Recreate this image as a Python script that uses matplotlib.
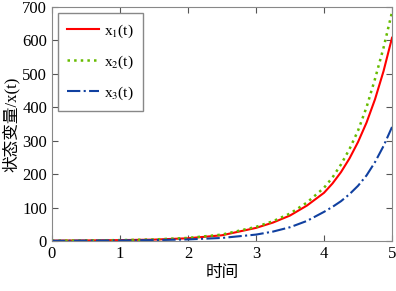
import matplotlib
matplotlib.use('Agg')
import matplotlib.pyplot as plt

plt.rcParams['font.family'] = ['Liberation Serif', 'Noto Sans CJK SC']
plt.rcParams['mathtext.fontset'] = 'stix'

# values
t = [0, 0.5, 1, 1.5, 2, 2.5, 3, 3.25, 3.5, 3.75,
     4, 4.125, 4.25, 4.375, 4.5, 4.625, 4.75, 4.875, 5]
x1 = [1, 1.5, 2.5, 4, 8, 17, 39, 55, 76, 106,
      144, 172, 206, 247, 296, 354, 424, 508, 608]
x2 = [1, 1.5, 2.5, 4.5, 9, 19, 42, 59, 82, 115,
      159, 190, 229, 275, 330, 400, 485, 578, 685]
x3 = [0.5, 1, 1.5, 2.5, 4.5, 9, 19, 28, 41, 60,
      87, 102, 119, 140, 165, 196, 236, 284, 341]
labels = ['x$_1$(t)', 'x$_2$(t)', 'x$_3$(t)']

fig = plt.figure(figsize=(3.96, 2.91), dpi=100)
ax = fig.add_axes([0.131, 0.172, 0.859, 0.804])

ax.plot(t, x1, '-', color='#ff0000', lw=1.5, label=labels[0])
ax.plot(t, x2, ':', color='#66bb00', lw=1.8, label=labels[1])
ax.plot(t, x3, '-.', color='#1040a0', lw=1.5, label=labels[2])

ax.set_xlim(0, 5)
ax.set_ylim(0, 700)
ax.set_xticks(range(6))
ax.set_yticks(range(0, 701, 100))
ax.tick_params(direction='in', top=True, right=True, labelsize=12,
               color='#555555', length=4)
for s in ax.spines.values():
    s.set_color('#888888')

ax.set_xlabel('时间', fontsize=12, labelpad=2)
ax.set_ylabel('状态变量/x(t)', fontsize=12, labelpad=2)

leg = ax.legend(loc='upper left', fontsize=11, handlelength=2.1,
                handletextpad=0.3, labelspacing=0.9, fancybox=False,
                framealpha=1, borderaxespad=0.4, borderpad=0.6)
leg.get_frame().set_edgecolor('#888888')

fig.savefig('out.png', dpi=100)
